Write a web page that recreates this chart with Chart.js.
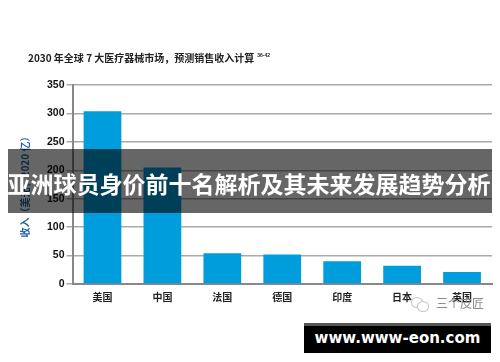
<!DOCTYPE html>
<html>
<head>
<meta charset="utf-8">
<script src="https://cdn.jsdelivr.net/npm/chart.js@4"></script>
<style>
  html, body { margin: 0; padding: 0; background: #fff; }
  #wrap { position: relative; width: 500px; height: 362px; overflow: hidden; font-family: "Noto Sans CJK SC", sans-serif; }
  #myChart { position: absolute; left: 0; top: 0; filter: blur(0.45px); }
  #banda { position: absolute; left: 8px; top: 149px; width: 484px; height: 64px; background: rgba(0, 0, 0, 0.6); }
  #banda span { position: absolute; left: -1px; right: 1px; top: 18px; text-align: center; color: #fff; font-weight: 700; font-size: 23px; line-height: 32px; white-space: nowrap; }
  #caja { position: absolute; left: 304px; top: 323px; width: 187px; height: 30px; background: #000; border-top: 3px solid #555; box-sizing: border-box; color: #fff; font: 700 15px/24px "DejaVu Sans", sans-serif; text-align: center; }
  #marca { position: absolute; left: 436px; top: 295px; color: #8a8a8a; font-size: 12px; line-height: 16px; }
  .burbuja { position: absolute; border: 1px solid #c4c4c4; border-radius: 50%; background: #fff; box-sizing: border-box; }
</style>
</head>
<body>
<div id="wrap">
  <canvas id="myChart" width="500" height="362"></canvas>
  <div class="burbuja" style="left:411px;top:297px;width:12px;height:11px"></div>
  <div class="burbuja" style="left:417px;top:301px;width:12px;height:11px"></div>
  <div id="marca">三个皮匠</div>
  <div id="banda"><span>亚洲球员身价前十名解析及其未来发展趋势分析</span></div>
  <div id="caja">www.www-eon.com</div>
</div>
<script>
const paises   = ['美国', '中国', '法国', '德国', '印度', '日本', '英国'];
const ingresos = [304, 205, 54, 52, 40, 32, 21];
const titulo   = '2030 年全球 7 大医疗器械市场，预测销售收入计算';
const nota     = '36-42';
const tituloY  = '收入（美元，2020 亿）';

const fuente = '"Noto Sans CJK SC", sans-serif';

// titulo arriba a la izquierda, con la nota en superindice
const tituloPlugin = {
  id: 'tituloPlugin',
  afterDraw(chart) {
    const ctx = chart.ctx;
    ctx.save();
    ctx.fillStyle = '#222';
    ctx.textBaseline = 'middle';
    ctx.font = 'bold 10px ' + fuente;
    ctx.fillText(titulo, 28, 58);
    const ancho = ctx.measureText(titulo).width;
    ctx.font = 'bold 5px "Liberation Sans"';
    ctx.fillText(nota, 28 + ancho + 3, 56);
    ctx.restore();
  }
};

// config
const config = {
  type: 'bar',
  data: {
    labels: paises,
    datasets: [{
      data: ingresos,
      backgroundColor: '#009ddc',
      categoryPercentage: 1,
      barPercentage: 0.63
    }]
  },
  plugins: [tituloPlugin],
  options: {
    responsive: false,
    animation: false,
    layout: { padding: { left: 19, right: 8, top: 85, bottom: 58 } },
    plugins: {
      legend: { display: false },
      tooltip: { enabled: false }
    },
    scales: {
      x: {
        afterFit(scale) { scale.height = 20; },
        grid: { display: false, tickLength: 5 },
        border: { color: '#888', width: 2 },
        ticks: { color: '#222', font: { family: fuente, size: 10, weight: 'bold' }, padding: 2 }
      },
      y: {
        min: 0,
        max: 350,
        afterFit(scale) { scale.width = 53.5; },
        ticks: { stepSize: 50, color: '#111', font: { family: 'Liberation Sans', size: 10.5, weight: 'bold' }, padding: 2 },
        grid: { color: '#aaa', lineWidth: 1.5, tickLength: 6 },
        border: { color: '#888', width: 2 },
        title: {
          display: true,
          text: tituloY,
          color: '#1f5fa8',
          font: { family: fuente, size: 10, weight: 'bold' },
          padding: 0
        }
      }
    }
  }
};

// render init block
const myChart = new Chart(document.getElementById('myChart'), config);
</script>
</body>
</html>
